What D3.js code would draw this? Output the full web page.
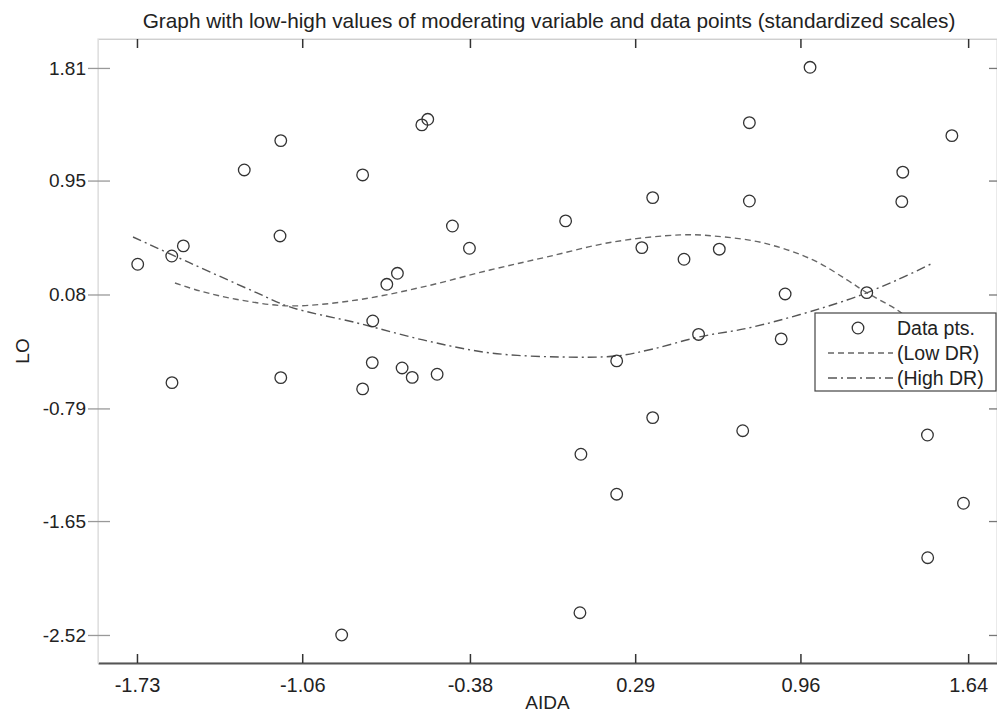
<!DOCTYPE html>
<html>
<head>
<meta charset="utf-8">
<script src="https://cdn.jsdelivr.net/npm/d3@7"></script>
<style>
  html, body { margin: 0; padding: 0; background: #fff; }
  svg { display: block; }
  text { font-family: "Liberation Sans", Arial, sans-serif; fill: #222; }
</style>
</head>
<body>
<svg id="chart" width="997" height="713"></svg>
<script>
const titleText = "Graph with low-high values of moderating variable and data points (standardized scales)";
const xLabel = "AIDA";
const yLabel = "LO";
const xTicks = [-1.73, -1.06, -0.38, 0.29, 0.96, 1.64];
const yTicks = [1.81, 0.95, 0.08, -0.79, -1.65, -2.52];
const legendLabels = ["Data pts.", "(Low DR)", "(High DR)"];

// data points (AIDA, LO)
const ptsX = [-1.727, -1.589, -1.542, -1.588, -1.295, -1.147, -1.150, -1.147, -0.900, -0.815,
              -0.815, -0.774, -0.776, -0.717, -0.674, -0.655, -0.614, -0.575, -0.551, -0.513,
              -0.451, -0.382, 0.008, 0.066, 0.070, 0.215, 0.215, 0.317, 0.361, 0.361,
              0.488, 0.547, 0.631, 0.726, 0.753, 0.753, 0.882, 0.898, 0.999, 1.229,
              1.371, 1.375, 1.475, 1.476, 1.574, 1.621];
const ptsY = [0.311, 0.374, 0.451, -0.593, 1.031, 1.255, 0.527, -0.555, -2.520, 0.993,
              -0.641, -0.122, -0.440, 0.158, 0.242, -0.481, -0.553, 1.375, 1.418, -0.529,
              0.603, 0.433, 0.642, -2.350, -1.140, -1.445, -0.427, 0.438, 0.820, -0.860,
              0.349, -0.225, 0.426, -0.960, 1.392, 0.794, -0.259, 0.084, 1.815, 0.094,
              0.789, 1.014, -0.993, -1.930, 1.293, -1.514];

// Low DR curve
const lowX = [-1.576, -1.475, -1.312, -1.110, -0.838, -0.570, -0.299, -0.067, 0.200, 0.472,
              0.606, 0.809, 1.011, 1.149, 1.230, 1.352, 1.425];
const lowY = [0.168, 0.107, 0.038, -0.007, 0.038, 0.138, 0.267, 0.367, 0.481, 0.535,
              0.527, 0.474, 0.344, 0.191, 0.092, -0.038, -0.145];
// High DR curve
const highX = [-1.746, -1.515, -1.243, -1.110, -0.838, -0.570, -0.299, -0.015, 0.216, 0.362,
               0.549, 0.768, 1.149, 1.352, 1.498];
const highY = [0.519, 0.321, 0.092, -0.015, -0.137, -0.267, -0.366, -0.397, -0.389, -0.336,
               -0.244, -0.168, 0.038, 0.191, 0.321];

const svg = d3.select("#chart");
const L = 98, R = 997, T = 39, B = 663;
const x = d3.scaleLinear().domain([-1.888, 1.757]).range([L, R]);
const y = d3.scaleLinear().domain([2.031, -2.734]).range([T, B]);
const fmt = d => d.toFixed(2);

// frame (light)
svg.append("rect").attr("x", L).attr("y", T).attr("width", R - L).attr("height", B - T)
  .attr("fill", "none").attr("stroke", "#dcdcdc").attr("stroke-width", 1.2);

// bottom axis
const xAxis = d3.axisBottom(x).tickValues(xTicks).tickFormat(fmt)
  .tickSizeInner(-9).tickSizeOuter(0).tickPadding(15);
const gx = svg.append("g").attr("transform", `translate(0,${B})`).call(xAxis);
gx.select(".domain").attr("stroke", "#555").attr("stroke-width", 2);
gx.selectAll(".tick line").attr("stroke", "#333").attr("stroke-width", 1.5);
gx.selectAll(".tick text").attr("font-size", 20).attr("fill", "#222")
  .style("font-family", "'Liberation Sans', Arial, sans-serif");

// top ticks
const xTop = d3.axisTop(x).tickValues(xTicks).tickFormat("").tickSizeInner(-9).tickSizeOuter(0);
const gt = svg.append("g").attr("transform", `translate(0,${T})`).call(xTop);
gt.select(".domain").attr("stroke", "#cfcfcf");
gt.selectAll(".tick line").attr("stroke", "#333").attr("stroke-width", 1.5);

// left axis
const yAxis = d3.axisLeft(y).tickValues(yTicks).tickFormat(fmt)
  .tickSizeInner(10).tickSizeOuter(0).tickPadding(3);
const gy = svg.append("g").attr("transform", `translate(${L},0)`).call(yAxis);
gy.select(".domain").attr("stroke", "#e0e0e0");
gy.selectAll(".tick line").attr("stroke", "#999").attr("x2", 12).attr("x1", -10).attr("stroke-width", 1.3);
gy.selectAll(".tick text").attr("font-size", 19).attr("fill", "#222").attr("x", -12)
  .style("font-family", "'Liberation Sans', Arial, sans-serif");

// right ticks
const yRight = d3.axisRight(y).tickValues(yTicks).tickFormat("").tickSizeInner(-8).tickSizeOuter(0);
const gr = svg.append("g").attr("transform", `translate(${R},0)`).call(yRight);
gr.select(".domain").attr("stroke", "#e0e0e0");
gr.selectAll(".tick line").attr("stroke", "#777").attr("stroke-width", 1.3);

// curves
const line = d3.line().x(d => x(d[0])).y(d => y(d[1])).curve(d3.curveCatmullRom);
svg.append("path").datum(lowX.map((v, i) => [v, lowY[i]]))
  .attr("d", line).attr("fill", "none").attr("stroke", "#666").attr("stroke-width", 1.4)
  .attr("stroke-dasharray", "6,4");
svg.append("path").datum(highX.map((v, i) => [v, highY[i]]))
  .attr("d", line).attr("fill", "none").attr("stroke", "#555").attr("stroke-width", 1.4)
  .attr("stroke-dasharray", "9,4,2,4");

// points
svg.append("g").selectAll("circle").data(ptsX.map((v, i) => [v, ptsY[i]])).join("circle")
  .attr("cx", d => x(d[0])).attr("cy", d => y(d[1])).attr("r", 5.8)
  .attr("fill", "none").attr("stroke", "#333").attr("stroke-width", 1.3);

// title
svg.append("text").attr("x", 549).attr("y", 28).attr("text-anchor", "middle")
  .attr("font-size", 20.8).text(titleText);

// axis labels
svg.append("text").attr("x", (L + R) / 2).attr("y", 709).attr("text-anchor", "middle")
  .attr("font-size", 19).text(xLabel);
svg.append("text").attr("transform", `translate(29,${(T + B) / 2}) rotate(-90)`)
  .attr("text-anchor", "middle").attr("font-size", 19).text(yLabel);

// legend
const lg = svg.append("g");
lg.append("rect").attr("x", 815).attr("y", 313).attr("width", 181).attr("height", 78)
  .attr("fill", "#fff").attr("stroke", "#444").attr("stroke-width", 1.2);
const rowsY = [328, 353, 378];
lg.append("circle").attr("cx", 858).attr("cy", rowsY[0]).attr("r", 5.8)
  .attr("fill", "none").attr("stroke", "#333").attr("stroke-width", 1.3);
lg.append("line").attr("x1", 828).attr("x2", 893).attr("y1", rowsY[1]).attr("y2", rowsY[1])
  .attr("stroke", "#666").attr("stroke-width", 1.4).attr("stroke-dasharray", "6,4");
lg.append("line").attr("x1", 828).attr("x2", 893).attr("y1", rowsY[2]).attr("y2", rowsY[2])
  .attr("stroke", "#555").attr("stroke-width", 1.4).attr("stroke-dasharray", "9,4,2,4");
legendLabels.forEach((t, i) => {
  lg.append("text").attr("x", 897).attr("y", rowsY[i]).attr("dy", "0.36em")
    .attr("font-size", 19.5).text(t);
});
</script>
</body>
</html>
